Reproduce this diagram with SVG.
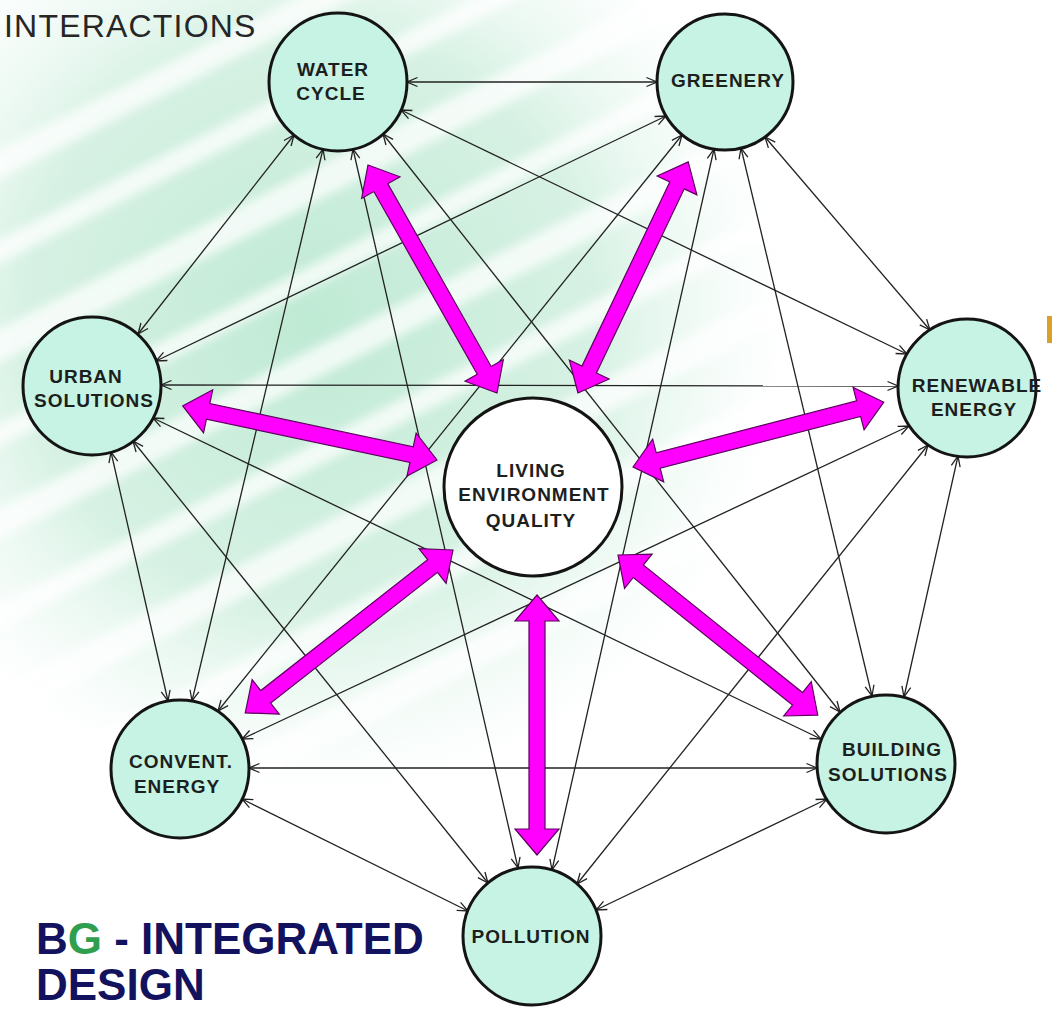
<svg xmlns="http://www.w3.org/2000/svg" width="1052" height="1010" viewBox="0 0 1052 1010">
  <style>
    .node circle { fill: #c6f3e3; stroke: #141414; stroke-width: 3; }
    .center circle { fill: #ffffff; stroke: #141414; stroke-width: 3; }
    .lbl { font-family: "Liberation Sans", Arial, sans-serif; font-weight: bold; font-size: 19px; letter-spacing: 1px; fill: #1c1f1e; text-anchor: middle; }
    .thin line { stroke: #222; stroke-width: 1.3; fill: none; marker-start: url(#ah); marker-end: url(#ah); }
    .big path { fill: #ff00ff; stroke: #5c005c; stroke-width: 1.2; stroke-linejoin: miter; }
  </style>
  <defs>
    <marker id="ah" viewBox="0 0 12 12" refX="11.5" refY="6" markerWidth="12" markerHeight="12" markerUnits="userSpaceOnUse" orient="auto-start-reverse">
      <path d="M1,1.5 L11.5,6 L1,10.5" fill="none" stroke="#222" stroke-width="1.3"/>
    </marker>
    <radialGradient id="glow" cx="310" cy="320" r="480" gradientUnits="userSpaceOnUse">
      <stop offset="0" stop-color="#bfead4" stop-opacity="1"/>
      <stop offset="0.6" stop-color="#cdeedd" stop-opacity="0.8"/>
      <stop offset="1" stop-color="#e6f8ef" stop-opacity="0"/>
    </radialGradient>
    <filter id="soft" x="-10%" y="-10%" width="120%" height="120%">
      <feGaussianBlur stdDeviation="5"/>
    </filter>
  </defs>

  <rect width="1052" height="1010" fill="#ffffff"/>

  <!-- background brush stripes -->
  <g id="background">
    <rect x="0" y="0" width="780" height="820" fill="url(#glow)"/>
    <g filter="url(#soft)" fill="#ffffff" opacity="0.75" transform="rotate(-27 300 400)">
      <rect x="-300" y="40" width="1100" height="26"/>
      <rect x="-300" y="120" width="1100" height="22"/>
      <rect x="-300" y="200" width="1100" height="30"/>
      <rect x="-300" y="285" width="1100" height="20"/>
      <rect x="-300" y="360" width="1100" height="28"/>
      <rect x="-300" y="445" width="1100" height="22"/>
      <rect x="-300" y="520" width="1100" height="30"/>
      <rect x="-300" y="605" width="1100" height="24"/>
      <rect x="-300" y="690" width="1100" height="30"/>
    </g>
  </g>

  <rect x="1047" y="316" width="5" height="27" fill="#d9a12a"/>

  <text x="4" y="37" font-family="Liberation Sans, Arial, sans-serif" font-size="32" letter-spacing="1.2" fill="#262626">INTERACTIONS</text>

  <!-- thin connectors -->
  <g id="connectors" class="thin">
    <line x1="407" y1="82" x2="657" y2="82"/>
    <line x1="401" y1="110" x2="907" y2="354"/>
    <line x1="294" y1="135" x2="138" y2="334"/>
    <line x1="323" y1="149" x2="192" y2="701"/>
    <line x1="353" y1="149" x2="518" y2="868"/>
    <line x1="383" y1="134" x2="840" y2="712"/>
    <line x1="666" y1="116" x2="156" y2="361"/>
    <line x1="682" y1="135" x2="218" y2="711"/>
    <line x1="714" y1="149" x2="552" y2="870"/>
    <line x1="741" y1="148" x2="872" y2="696"/>
    <line x1="765" y1="137" x2="930" y2="330"/>
    <line x1="161" y1="385" x2="898" y2="386"/>
    <line x1="153" y1="418" x2="821" y2="739"/>
    <line x1="133" y1="441" x2="488" y2="883"/>
    <line x1="111" y1="452" x2="168" y2="701"/>
    <line x1="909" y1="426" x2="242" y2="739"/>
    <line x1="928" y1="445" x2="577" y2="884"/>
    <line x1="958" y1="456" x2="904" y2="697"/>
    <line x1="249" y1="768" x2="817" y2="768"/>
    <line x1="242" y1="799" x2="468" y2="911"/>
    <line x1="827" y1="799" x2="596" y2="910"/>
  </g>

  <!-- thick magenta connectors -->
  <g id="main-links" class="big">
    <path transform="translate(497,393) rotate(-119.5)" d="M0,0 L26,-22 L26,-8 L236,-8 L236,-22 L262,0 L236,22 L236,8 L26,8 L26,22 Z"/>
    <path transform="translate(578,393) rotate(-64.5)" d="M0,0 L26,-22 L26,-8 L230,-8 L230,-22 L256,0 L230,22 L230,8 L26,8 L26,22 Z"/>
    <path transform="translate(437,460) rotate(-168)" d="M0,0 L26,-22 L26,-8 L234,-8 L234,-22 L260,0 L234,22 L234,8 L26,8 L26,22 Z"/>
    <path transform="translate(633,467) rotate(-14.5)" d="M0,0 L26,-22 L26,-8 L233,-8 L233,-22 L259,0 L233,22 L233,8 L26,8 L26,22 Z"/>
    <path transform="translate(453,550) rotate(141.9)" d="M0,0 L26,-22 L26,-8 L238,-8 L238,-22 L264,0 L238,22 L238,8 L26,8 L26,22 Z"/>
    <path transform="translate(618,555) rotate(38.7)" d="M0,0 L26,-22 L26,-8 L230,-8 L230,-22 L256,0 L230,22 L230,8 L26,8 L26,22 Z"/>
    <path transform="translate(537,595) rotate(90)" d="M0,0 L26,-22 L26,-8 L234,-8 L234,-22 L260,0 L234,22 L234,8 L26,8 L26,22 Z"/>
  </g>

  <g id="water-cycle" class="node">
    <circle cx="338" cy="82" r="69"/>
    <text class="lbl" x="333" y="76">WATER</text>
    <text class="lbl" x="331" y="100">CYCLE</text>
  </g>
  <g id="greenery" class="node">
    <circle cx="725" cy="82" r="68"/>
    <text class="lbl" x="728" y="87">GREENERY</text>
  </g>
  <g id="urban-solutions" class="node">
    <circle cx="92" cy="386" r="69"/>
    <text class="lbl" x="86" y="383">URBAN</text>
    <text class="lbl" x="94" y="407">SOLUTIONS</text>
  </g>
  <g id="renewable-energy" class="node">
    <circle cx="967" cy="388" r="69"/>
    <text class="lbl" x="977" y="392">RENEWABLE</text>
    <text class="lbl" x="974" y="416">ENERGY</text>
  </g>
  <g id="living-environment-quality" class="center">
    <circle cx="533" cy="487" r="89"/>
    <text class="lbl" x="531" y="477">LIVING</text>
    <text class="lbl" x="534" y="501">ENVIRONMENT</text>
    <text class="lbl" x="531" y="527">QUALITY</text>
  </g>
  <g id="convent-energy" class="node">
    <circle cx="180" cy="769" r="69"/>
    <text class="lbl" x="181" y="768">CONVENT.</text>
    <text class="lbl" x="177" y="793">ENERGY</text>
  </g>
  <g id="building-solutions" class="node">
    <circle cx="886" cy="764" r="69"/>
    <text class="lbl" x="892" y="756">BUILDING</text>
    <text class="lbl" x="888" y="781">SOLUTIONS</text>
  </g>
  <g id="pollution" class="node">
    <circle cx="532" cy="936" r="69"/>
    <text class="lbl" x="531" y="943">POLLUTION</text>
  </g>

  <g id="title" font-family="Liberation Sans, Arial, sans-serif" font-weight="bold" font-size="44" fill="#12125e">
    <text x="36" y="954">B<tspan fill="#2f9e4f">G</tspan> - INTEGRATED</text>
    <text x="36" y="1000">DESIGN</text>
  </g>
</svg>
